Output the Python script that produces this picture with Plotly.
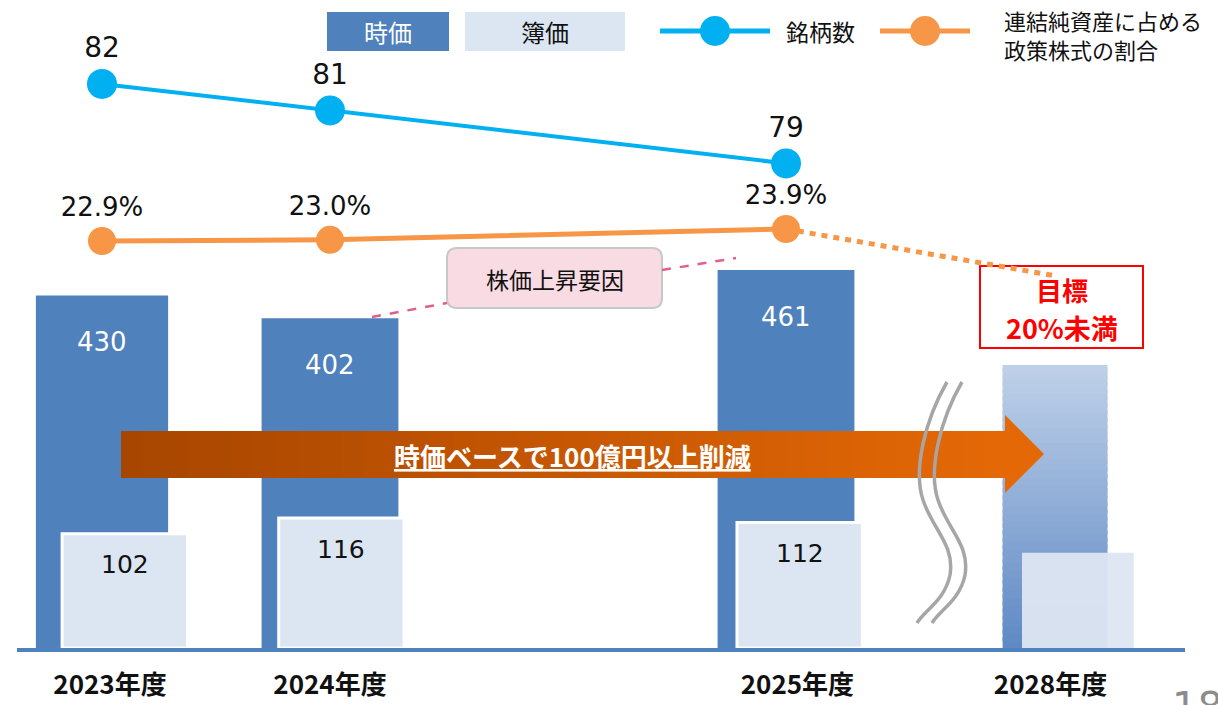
import plotly.graph_objects as go

# ---------------- data ----------------
categories = ["2023年度", "2024年度", "2025年度", "2028年度"]
market_value = [430, 402, 461]          # 時価 (億円)
book_value = [102, 116, 112]            # 簿価 (億円)
holdings = [82, 81, 79]                 # 銘柄数
ratio = [22.9, 23.0, 23.9]              # 連結純資産に占める政策株式の割合 (%)
target_ratio = 20.0                     # 目標 20%未満
target_market_est = 345                 # 2028年度 イメージ棒 (推定)
target_book_est = 85                    # 2028年度 イメージ棒 (推定)

# ---------------- layout constants ----------------
W, H = 1218, 705
ML, MR, MT, MB = 0, 0, 10, 57
PW, PH = W - ML - MR, H - MT - MB
BASE = H - MB

x_pos = [0, 1, 3, 4.18]
label_pos = [0.035, 1.0, 3.05, 4.16]
bar_w = [0.58, 0.6, 0.6, 0.46]
book_off = [0.1, 0.05, 0.06, 0.1]
book_w = [0.55, 0.55, 0.55, 0.49]

BLUE = "#4f81bd"
LIGHT = "#dce6f2"
CYAN = "#00b0f0"
ORANGE = "#f79646"
JP = "Noto Sans CJK JP"
NUM = "DejaVu Sans"


def px(x):
    return (x - ML) / PW


def py(y):
    return (BASE - y) / PH


def lerp(c1, c2, t):
    return "rgb(%d,%d,%d)" % tuple(round(a + (b - a) * t) for a, b in zip(c1, c2))


def note(x, y, text, size, color, family=JP, xanchor="center", align="center"):
    return dict(x=px(x), y=py(y), xref="paper", yref="paper", showarrow=False,
                xanchor=xanchor, yanchor="middle", align=align, text=text,
                font=dict(size=size, family=family, color=color))


fig = go.Figure()

# 時価 bars
fig.add_trace(go.Bar(x=x_pos[:3], y=market_value, width=bar_w[:3], yaxis="y",
                     marker=dict(color=BLUE, line=dict(width=0)), hoverinfo="skip",
                     name="時価", showlegend=False))
# 2028 image bar with gradient (stacked segments)
n = 40
seg = target_market_est / n
for i in range(n):
    t = i / (n - 1)
    top_seg = (i == n - 1)
    fig.add_trace(go.Bar(x=[x_pos[3]], y=[seg if top_seg else seg * 1.6], base=[i * seg],
                         width=[bar_w[3]], yaxis="y",
                         marker=dict(color=lerp((96, 138, 197), (190, 208, 232), t),
                                     line=dict(width=0)),
                         hoverinfo="skip", showlegend=False))

# 簿価 boxes
fig.add_trace(go.Bar(x=[p + o for p, o in zip(x_pos[:3], book_off[:3])], y=book_value,
                     width=book_w[:3], yaxis="y2",
                     marker=dict(color=LIGHT, line=dict(color="white", width=3)),
                     hoverinfo="skip", name="簿価", showlegend=False))
fig.add_trace(go.Bar(x=[x_pos[3] + book_off[3]], y=[target_book_est], width=[book_w[3]],
                     yaxis="y2", marker=dict(color="rgba(221,230,242,0.95)", line=dict(width=0)),
                     hoverinfo="skip", showlegend=False))

# 銘柄数 line
fig.add_trace(go.Scatter(x=x_pos[:3], y=holdings, yaxis="y3", mode="lines+markers+text",
                         line=dict(color=CYAN, width=4), marker=dict(size=30, color=CYAN),
                         text=[str(v) for v in holdings], textposition="top center",
                         textfont=dict(size=28, family=NUM, color="#111111"),
                         hoverinfo="skip", showlegend=False))
# ratio target (dotted)
fig.add_trace(go.Scatter(x=[x_pos[2], x_pos[3]], y=[ratio[-1], target_ratio], yaxis="y4",
                         mode="lines", line=dict(color=ORANGE, width=5, dash="6px,6px"),
                         hoverinfo="skip", showlegend=False))
# ratio line
fig.add_trace(go.Scatter(x=x_pos[:3], y=ratio, yaxis="y4", mode="lines+markers+text",
                         line=dict(color=ORANGE, width=5), marker=dict(size=28, color=ORANGE),
                         text=[f"{v:.1f}%" for v in ratio], textposition="top center",
                         textfont=dict(size=26, family=NUM, color="#111111"),
                         hoverinfo="skip", showlegend=False))

annotations = []
# values inside bars
for x, v in zip(x_pos[:3], market_value):
    annotations.append(dict(x=x, y=v, xref="x", yref="y", yshift=-47, text=str(v),
                            xanchor="center", yanchor="middle", showarrow=False,
                            font=dict(size=26, family=NUM, color="white")))
for x, o, v in zip(x_pos[:3], book_off[:3], book_value):
    annotations.append(dict(x=x + o, y=v, xref="x", yref="y2", yshift=-31, text=str(v),
                            xanchor="center", yanchor="middle", showarrow=False,
                            font=dict(size=25, family=NUM, color="#111111")))

shapes = []
# baseline
shapes.append(dict(type="line", xref="paper", yref="paper", x0=px(17), x1=px(1185),
                   y0=py(650), y1=py(650), line=dict(color=BLUE, width=4), layer="above"))

# big arrow with gradient
ax0, ax1, ay0, ay1 = 121, 1006, 431, 478
ns = 40
c_left, c_right = (168, 70, 0), (228, 104, 6)
for i in range(ns):
    x0 = ax0 + (ax1 - ax0) * i / ns
    x1 = ax0 + (ax1 - ax0) * (i + 1) / ns + 0.8
    shapes.append(dict(type="rect", xref="paper", yref="paper", x0=px(x0), x1=px(x1),
                       y0=py(ay1), y1=py(ay0), fillcolor=lerp(c_left, c_right, i / (ns - 1)),
                       line=dict(width=0), layer="above"))
shapes.append(dict(type="path", xref="paper", yref="paper",
                   path=f"M {px(1005)} {py(415)} L {px(1044)} {py(454)} L {px(1005)} {py(493)} Z",
                   fillcolor=lerp(c_left, c_right, 1.0), line=dict(width=0), layer="above"))
annotations.append(note(572, 455, "<b><u>時価ベースで100億円以上削減</u></b>", 26, "white"))

# 株価上昇要因 callout
bx0, bx1, by0, by1, r = 447, 662, 248, 308, 10
path = (f"M {px(bx0 + r)} {py(by0)} L {px(bx1 - r)} {py(by0)} "
        f"Q {px(bx1)} {py(by0)} {px(bx1)} {py(by0 + r)} L {px(bx1)} {py(by1 - r)} "
        f"Q {px(bx1)} {py(by1)} {px(bx1 - r)} {py(by1)} L {px(bx0 + r)} {py(by1)} "
        f"Q {px(bx0)} {py(by1)} {px(bx0)} {py(by1 - r)} L {px(bx0)} {py(by0 + r)} "
        f"Q {px(bx0)} {py(by0)} {px(bx0 + r)} {py(by0)} Z")
shapes.append(dict(type="path", xref="paper", yref="paper", path=path, fillcolor="#f9dce3",
                   line=dict(color="#c8c8c8", width=2), layer="above"))
for (x0, y0, x1, y1) in [(372, 317, 447, 303), (662, 270, 736, 258)]:
    shapes.append(dict(type="line", xref="paper", yref="paper", x0=px(x0), y0=py(y0),
                       x1=px(x1), y1=py(y1), line=dict(color="#e0608a", width=2.5, dash="dash"),
                       layer="above"))
annotations.append(note(555, 279, "株価上昇要因", 23, "#111111"))

# target box
shapes.append(dict(type="rect", xref="paper", yref="paper", x0=px(980), x1=px(1143),
                   y0=py(348), y1=py(266), fillcolor="white",
                   line=dict(color="#ff0000", width=2), layer="below"))
annotations.append(note(1062, 289, "<b>目標</b>", 26, "#ff0000"))
annotations.append(note(1062, 327, "<b>20%未満</b>", 27, "#ff0000"))

# break marks
for dx in (0, 15):
    p = (f"M {px(947 + dx)} {py(382)} C {px(925 + dx)} {py(420)} {px(913 + dx)} {py(470)} "
         f"{px(923 + dx)} {py(500)} C {px(933 + dx)} {py(530)} {px(955 + dx)} {py(545)} "
         f"{px(950 + dx)} {py(575)} C {px(945 + dx)} {py(600)} {px(925 + dx)} {py(610)} "
         f"{px(917 + dx)} {py(623)}")
    shapes.append(dict(type="path", xref="paper", yref="paper", path=p,
                       line=dict(color="#a6a6a6", width=3.5), layer="above"))

# custom legend
shapes.append(dict(type="rect", xref="paper", yref="paper", x0=px(327), x1=px(449),
                   y0=py(51), y1=py(12), fillcolor=BLUE, line=dict(width=0)))
shapes.append(dict(type="rect", xref="paper", yref="paper", x0=px(465), x1=px(625),
                   y0=py(51), y1=py(12), fillcolor=LIGHT, line=dict(width=0)))
annotations.append(note(388, 31, "時価", 24, "white"))
annotations.append(note(545, 31, "簿価", 24, "#111111"))
for (lx0, lx1, cx, col) in [(660, 770, 715, CYAN), (880, 970, 925, ORANGE)]:
    shapes.append(dict(type="line", xref="paper", yref="paper", x0=px(lx0), x1=px(lx1),
                       y0=py(31), y1=py(31), line=dict(color=col, width=5)))
    shapes.append(dict(type="circle", xref="paper", yref="paper", x0=px(cx - 15), x1=px(cx + 15),
                       y0=py(46), y1=py(16), fillcolor=col, line=dict(width=0)))
annotations.append(note(784, 31, "銘柄数", 23, "#111111", xanchor="left"))
annotations.append(note(1002, 20, "連結純資産に占める", 22, "#111111", xanchor="left"))
annotations.append(note(1002, 49, "政策株式の割合", 22, "#111111", xanchor="left"))

# page number (partially cut off, as in the slide)
annotations.append(note(1197, 707, "18", 40, "#8c8c8c", family=NUM))

x0r = -102 / 228
fig.update_layout(
    width=W, height=H,
    margin=dict(l=ML, r=MR, t=MT, b=MB, autoexpand=False),
    paper_bgcolor="white", plot_bgcolor="white",
    barmode="overlay", showlegend=False,
    xaxis=dict(range=[x0r, x0r + W / 228], tickvals=label_pos,
               ticktext=[f"<b>{c}</b>" for c in categories],
               tickfont=dict(size=26, family=JP, color="#111111"),
               showgrid=False, zeroline=False, showline=False, ticks="",
               ticklabelstandoff=19, automargin=False, fixedrange=True),
    yaxis=dict(range=[0, PH / 0.82], visible=False, fixedrange=True),
    yaxis2=dict(range=[0, PH / 1.12], overlaying="y", visible=False, fixedrange=True),
    yaxis3=dict(range=[60.71, 84.79], overlaying="y", visible=False, fixedrange=True),
    yaxis4=dict(range=[-11.02, 42.15], overlaying="y", visible=False, fixedrange=True),
    shapes=shapes, annotations=annotations,
    font=dict(family=JP),
)

fig.write_html("out.html", config={"displayModeBar": False},
               post_script="document.body.style.margin='0';document.body.style.overflow='hidden';")
